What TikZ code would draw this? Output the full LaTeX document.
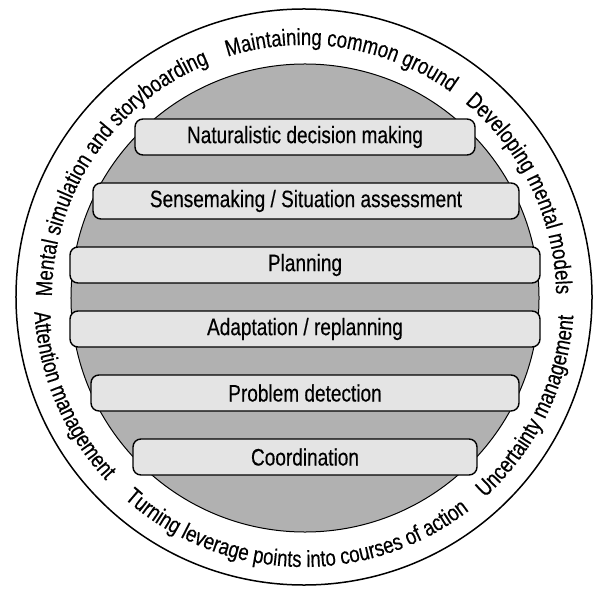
\documentclass[tikz,border=0pt]{standalone}
\usepackage{fontspec}
\setmainfont[FakeStretch=0.8, FakeBold=0.35]{Liberation Sans}
\usepackage{tikz}
\usetikzlibrary{decorations.text}

\newcommand{\barsize}{\fontsize{11.9}{14}\selectfont}
\newcommand{\ringsize}{\fontsize{11.6}{14}\selectfont}

\tikzset{
  bar/.style={draw, line width=0.7pt, fill=barfill, rounded corners=4pt,
    minimum height=18pt, inner sep=0pt, font=\barsize},
  ringtext/.style={decorate, decoration={text along path, text align=center,
    text={|\ringsize|#1}}}
}
\definecolor{barfill}{HTML}{E4E4E4}
\definecolor{discfill}{HTML}{B1B1B1}

\begin{document}
\begin{tikzpicture}[x=0.5pt, y=0.5pt]
            \useasboundingbox (-304,-291) rectangle (293,297);

            % Circles
            \draw[line width=0.75pt] (0,0) circle[radius=288];
            \draw[line width=0.5pt, fill=discfill] (1,-1) circle[radius=234];

            % Nodes
            \node[bar, minimum width=170pt] (ndm) at (1,160) {Naturalistic decision making};
            \node[bar, minimum width=213pt] (sense) at (2,96) {Sensemaking / Situation assessment};
            \node[bar, minimum width=235pt] (plan) at (1,32) {Planning};
            \node[bar, minimum width=235pt] (adapt) at (1,-32) {Adaptation / replanning};
            \node[bar, minimum width=214pt] (detect) at (1,-96) {Problem detection};
            \node[bar, minimum width=172pt] (coord) at (1,-160) {Coordination};

            % Ring labels
            \path[ringtext={Mental simulation and storyboarding}] (196:252) arc[start angle=196, end angle=96, radius=252];
            \path[ringtext={Maintaining common ground}] (126:252) arc[start angle=126, end angle=36, radius=252];
            \path[ringtext={Developing mental models}] (70:252) arc[start angle=70, end angle=-19, radius=252];
            \path[ringtext={Attention management}] (158:270) arc[start angle=158, end angle=248, radius=270];
            \path[ringtext={Turning leverage points into courses of action}] (216:270) arc[start angle=216, end angle=320, radius=270];
            \path[ringtext={Uncertainty management}] (289:270) arc[start angle=289, end angle=379, radius=270];
        \end{tikzpicture}
\end{document}
